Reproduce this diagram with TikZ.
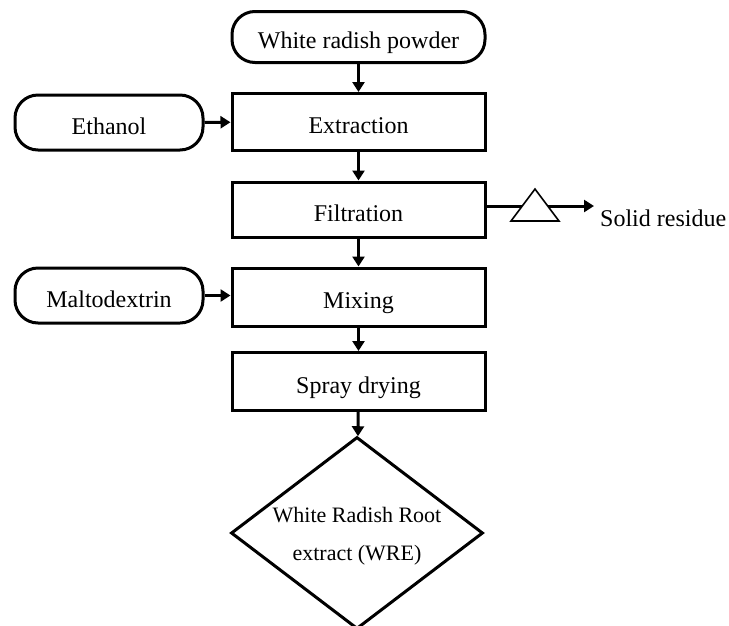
\documentclass[tikz,border=0pt]{standalone}
\usepackage{fontspec}
\setmainfont{Liberation Serif}
\usetikzlibrary{shapes.geometric,arrows.meta}
\begin{document}
\begin{tikzpicture}[x=1pt,y=-1pt,
  lw/.style={line width=3pt},
  txt/.style={font=\fontsize{24}{28}\selectfont,text height=23pt,text depth=0pt},
  procbox/.style={draw,lw,rectangle,minimum width=253pt,inner sep=0pt,txt},
  termbox/.style={draw,lw,rectangle,rounded corners=23pt,inner sep=0pt,txt},
  arr/.style={lw,-{Triangle[length=10pt,width=12pt]}},
  plain/.style={font=\fontsize{24}{28}\selectfont,inner sep=0pt}]
\useasboundingbox (0,0) rectangle (729,625);
\node[termbox,minimum width=253pt,minimum height=51pt] (wrp) at (358.5,37) {White radish powder};
\node[procbox,minimum height=57pt] (ext) at (358.5,122) {Extraction};
\node[termbox,minimum width=188pt,minimum height=55pt] (eth) at (109,122.5) {Ethanol};
\node[procbox,minimum height=55pt] (fil) at (358.5,209.5) {Filtration};
\node[procbox,minimum height=58pt] (mix) at (358.5,297) {Mixing};
\node[termbox,minimum width=188pt,minimum height=55pt] (mal) at (109,295.5) {Maltodextrin};
\node[procbox,minimum height=58pt] (spr) at (358.5,381.5) {Spray drying};
\node[draw,lw,diamond,minimum width=252pt,minimum height=192pt,inner sep=0pt] (wre) at (357,533) {};
\node[plain,align=center,font=\fontsize{22}{38}\selectfont] (wretxt) at (357,536) {White Radish Root\\extract (WRE)};
\node[plain,anchor=west] (sr) at (600,218) {Solid residue};
\coordinate (srend) at (594,206);
\draw[arr] (wrp) -- (ext);
\draw[arr] (ext) -- (fil);
\draw[arr] (fil) -- (mix);
\draw[arr] (mix) -- (spr);
\draw[arr] (spr) -- (wre);
\draw[arr] (eth) -- (ext);
\draw[arr] (mal) -- (mix.west |- mal);
\draw[arr] (fil.east |- srend) -- (srend);
\draw[line width=1.6pt,fill=white] (511,221) -- (559,221) -- (535,189) -- cycle;
\end{tikzpicture}
\end{document}
